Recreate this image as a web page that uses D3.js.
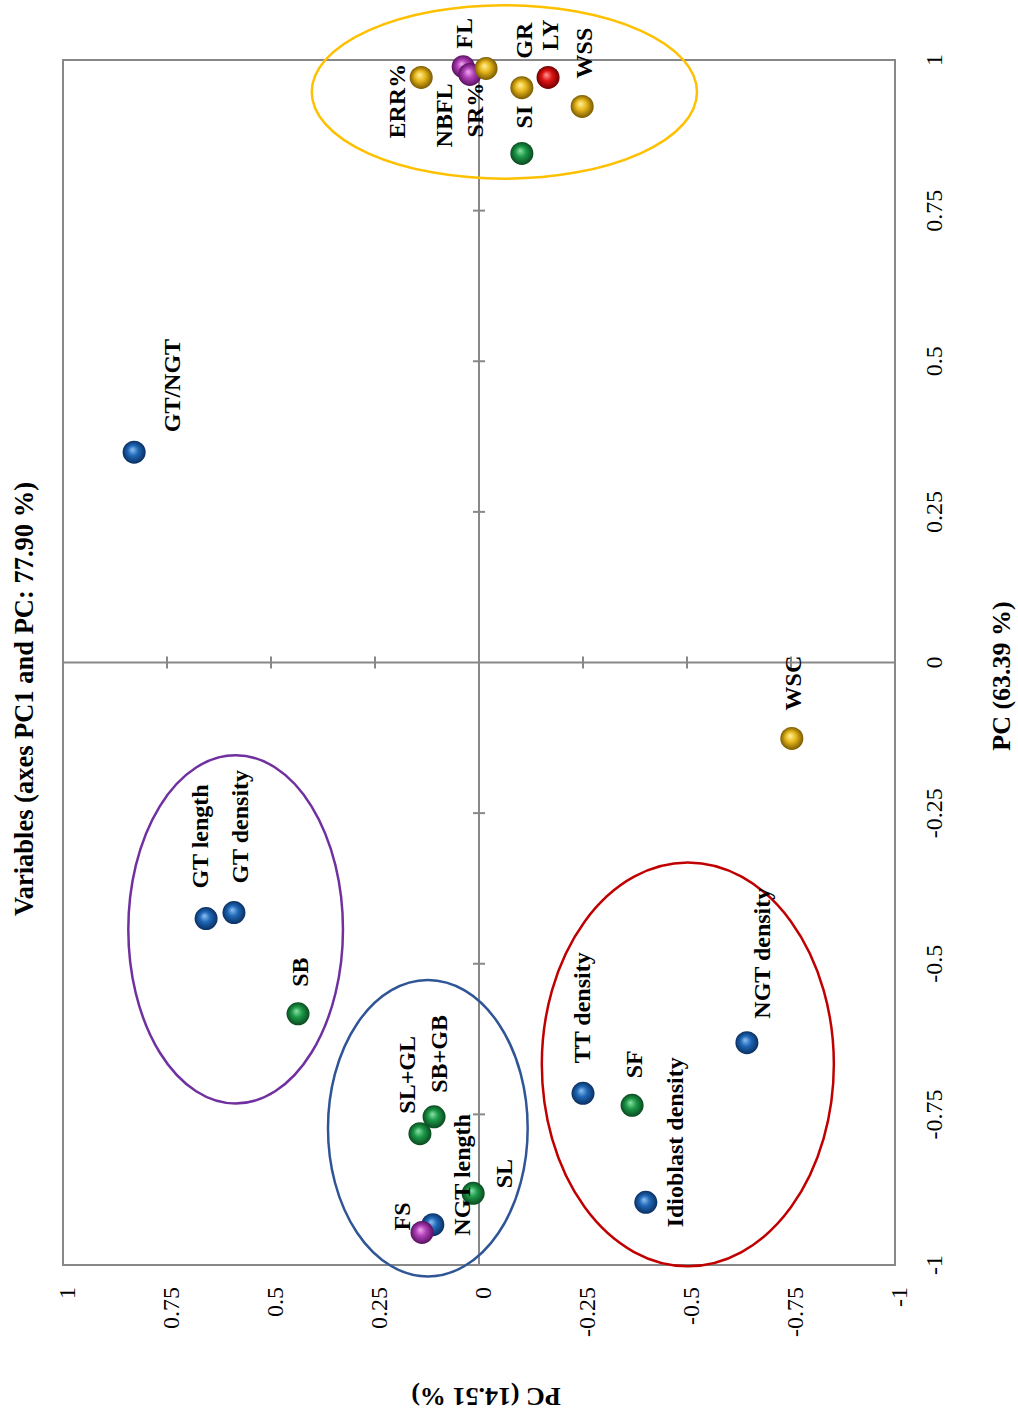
<!DOCTYPE html>
<html>
<head>
<meta charset="utf-8">
<script src="https://cdn.jsdelivr.net/npm/d3@7"></script>
<style>
  body { margin: 0; background: #fff; }
  text { font-family: "Liberation Serif", "Times New Roman", serif; fill: #000; }
</style>
</head>
<body>
<div id="chart"></div>
<script>
// variables and their loadings on PC1 / PC2
const variables = ['ERR%', 'FL', 'SR%', 'NBFL', 'GR', 'LY', 'WSS', 'SI',
  'GT/NGT', 'WSC', 'GT length', 'GT density', 'SB', 'SL+GL', 'SB+GB',
  'NGT length', 'FS', 'SL', 'TT density', 'SF', 'Idioblast density', 'NGT density'];
const pc1 = [0.971, 0.989, 0.976, 0.986, 0.954, 0.971, 0.923, 0.845,
  0.349, -0.126, -0.425, -0.415, -0.583, -0.782, -0.754,
  -0.933, -0.946, -0.881, -0.715, -0.735, -0.896, -0.631];
const pc2 = [0.139, 0.038, 0.022, -0.017, -0.103, -0.166, -0.248, -0.103,
  0.829, -0.752, 0.656, 0.589, 0.435, 0.142, 0.108,
  0.111, 0.137, 0.014, -0.250, -0.368, -0.401, -0.644];
const groups = ['yellow', 'magenta', 'magenta', 'yellow', 'yellow', 'red', 'yellow', 'green',
  'blue', 'yellow', 'blue', 'blue', 'green', 'green', 'green',
  'blue', 'magenta', 'green', 'blue', 'green', 'blue', 'blue'];

// cluster ellipses (centre and radii in loading units)
const clusters = ['top', 'gt', 'sl', 'density'];
const clusterPC1 = [0.947, -0.443, -0.773, -0.667];
const clusterPC2 = [-0.061, 0.585, 0.123, -0.502];
const clusterR1 = [0.144, 0.289, 0.246, 0.335];
const clusterR2 = [0.463, 0.258, 0.240, 0.351];

const ticks = [-1, -0.75, -0.5, -0.25, 0, 0.25, 0.5, 0.75, 1];
const innerTicks = [-0.75, -0.5, -0.25, 0.25, 0.5, 0.75];

const titleText = 'Variables (axes PC1 and PC: 77.90 %)';
const xTitle = 'PC (63.39 %)';
const yTitle = 'PC (14.51 %)';

// label nudges (along / across the PC1 axis), layout only
const labelNudge = {
  'ERR%': [-61, -16], 'FL': [18, 9], 'SR%': [-63, 13], 'NBFL': [-79, -34],
  'GR': [29, 10], 'LY': [27, 10], 'WSS': [28, 10], 'SI': [25, 10],
  'GT/NGT': [20, 46], 'WSC': [28, 9], 'GT length': [30, 2], 'GT density': [29, 14],
  'SB': [27, 10], 'SL+GL': [20, -5], 'SB+GB': [24, 13], 'NGT length': [-11, 37],
  'FS': [2, -12], 'SL': [5, 39], 'TT density': [30, 7], 'SF': [27, 10],
  'Idioblast density': [-25, 37], 'NGT density': [24, 23]
};

const config = {
  svgWidth: 1018, svgHeight: 1416,
  left: 63, bottom: 1265,
  width: 1205, height: 832,
  radius: 11.5
};

const ballColor = d3.scaleOrdinal()
  .domain(['blue', 'green', 'yellow', 'magenta', 'red'])
  .range([
    ['#8fc0f0', '#1f68b8', '#0a2f60'],
    ['#8fe0a8', '#1c9a48', '#0a4a20'],
    ['#fff2a0', '#e8b81c', '#7a5a00'],
    ['#f0a8f0', '#b040b8', '#5a1060'],
    ['#ff9a9a', '#e01414', '#700000']
  ]);

const ellipseColor = d3.scaleOrdinal()
  .domain(clusters)
  .range(['#ffc000', '#7030a0', '#2f5597', '#c00000']);

const svg = d3.select('#chart').append('svg')
  .attr('width', config.svgWidth)
  .attr('height', config.svgHeight);

svg.append('rect').attr('width', config.svgWidth).attr('height', config.svgHeight).attr('fill', '#fff');

// gradients for the 3d balls
const defs = svg.append('defs');
ballColor.domain().forEach(g => {
  const c = ballColor(g);
  const grad = defs.append('radialGradient')
    .attr('id', 'ball-' + g)
    .attr('cx', 0.5).attr('cy', 0.5).attr('r', 0.5)
    .attr('fx', 0.62).attr('fy', 0.42);
  grad.append('stop').attr('offset', '0%').attr('stop-color', c[0]);
  grad.append('stop').attr('offset', '45%').attr('stop-color', c[1]);
  grad.append('stop').attr('offset', '100%').attr('stop-color', c[2]);
});

// whole chart is drawn upright, then turned a quarter turn
const chart = svg.append('g')
  .attr('transform', `translate(${config.left},${config.bottom}) rotate(-90)`);

const x = d3.scaleLinear().domain([-1, 1]).range([0, config.width]);
const y = d3.scaleLinear().domain([-1, 1]).range([config.height, 0]);

const gray = '#888888';

chart.append('rect')
  .attr('x', 0).attr('y', 0)
  .attr('width', config.width).attr('height', config.height)
  .attr('fill', 'none').attr('stroke', gray).attr('stroke-width', 2);

// zero lines
chart.append('line')
  .attr('x1', 0).attr('x2', config.width)
  .attr('y1', y(0)).attr('y2', y(0))
  .attr('stroke', gray).attr('stroke-width', 2);
chart.append('line')
  .attr('x1', x(0)).attr('x2', x(0))
  .attr('y1', 0).attr('y2', config.height)
  .attr('stroke', gray).attr('stroke-width', 2);

chart.selectAll('.xtick').data(innerTicks).join('line')
  .attr('class', 'xtick')
  .attr('x1', d => x(d)).attr('x2', d => x(d))
  .attr('y1', y(0) - 6).attr('y2', y(0) + 6)
  .attr('stroke', gray).attr('stroke-width', 2);
chart.selectAll('.ytick').data(innerTicks).join('line')
  .attr('class', 'ytick')
  .attr('y1', d => y(d)).attr('y2', d => y(d))
  .attr('x1', x(0) - 6).attr('x2', x(0) + 6)
  .attr('stroke', gray).attr('stroke-width', 2);

// tick labels (plain hyphen minus, as in the original)
const tickText = d => String(d);
chart.selectAll('.xlab').data(ticks).join('text')
  .attr('class', 'xlab')
  .attr('x', d => x(d))
  .attr('y', config.height + 47)
  .attr('text-anchor', 'middle')
  .attr('font-size', 24)
  .text(tickText);
chart.selectAll('.ylab').data(ticks).join('text')
  .attr('class', 'ylab')
  .attr('x', -22)
  .attr('y', d => y(d) + 12)
  .attr('text-anchor', 'end')
  .attr('font-size', 24)
  .text(tickText);

// titles
chart.append('text')
  .attr('x', 566).attr('y', -30)
  .attr('text-anchor', 'middle')
  .attr('font-size', 26.5).attr('font-weight', 'bold')
  .text(titleText);
chart.append('text')
  .attr('x', 589).attr('y', config.height + 115)
  .attr('text-anchor', 'middle')
  .attr('font-size', 26).attr('font-weight', 'bold')
  .text(xTitle);
chart.append('text')
  .attr('transform', `translate(-123,${y(0) + 7}) rotate(-90)`)
  .attr('text-anchor', 'middle')
  .attr('font-size', 26).attr('font-weight', 'bold')
  .text(yTitle);

// cluster ellipses
chart.selectAll('.cluster').data(clusters).join('ellipse')
  .attr('class', 'cluster')
  .attr('cx', (d, i) => x(clusterPC1[i]))
  .attr('cy', (d, i) => y(clusterPC2[i]))
  .attr('rx', (d, i) => x(clusterR1[i]) - x(0))
  .attr('ry', (d, i) => y(0) - y(clusterR2[i]))
  .attr('fill', 'none')
  .attr('stroke', d => ellipseColor(d))
  .attr('stroke-width', 2.5);

const points = variables.map((name, i) => ({ name, pc1: pc1[i], pc2: pc2[i], group: groups[i] }));

chart.selectAll('.ball').data(points).join('circle')
  .attr('class', 'ball')
  .attr('cx', d => x(d.pc1))
  .attr('cy', d => y(d.pc2))
  .attr('r', config.radius)
  .attr('fill', d => `url(#ball-${d.group})`);

chart.selectAll('.vlabel').data(points).join('text')
  .attr('class', 'vlabel')
  .attr('x', d => x(d.pc1) + labelNudge[d.name][0])
  .attr('y', d => y(d.pc2) + labelNudge[d.name][1])
  .attr('font-size', 24)
  .attr('font-weight', 'bold')
  .text(d => d.name);
</script>
</body>
</html>
